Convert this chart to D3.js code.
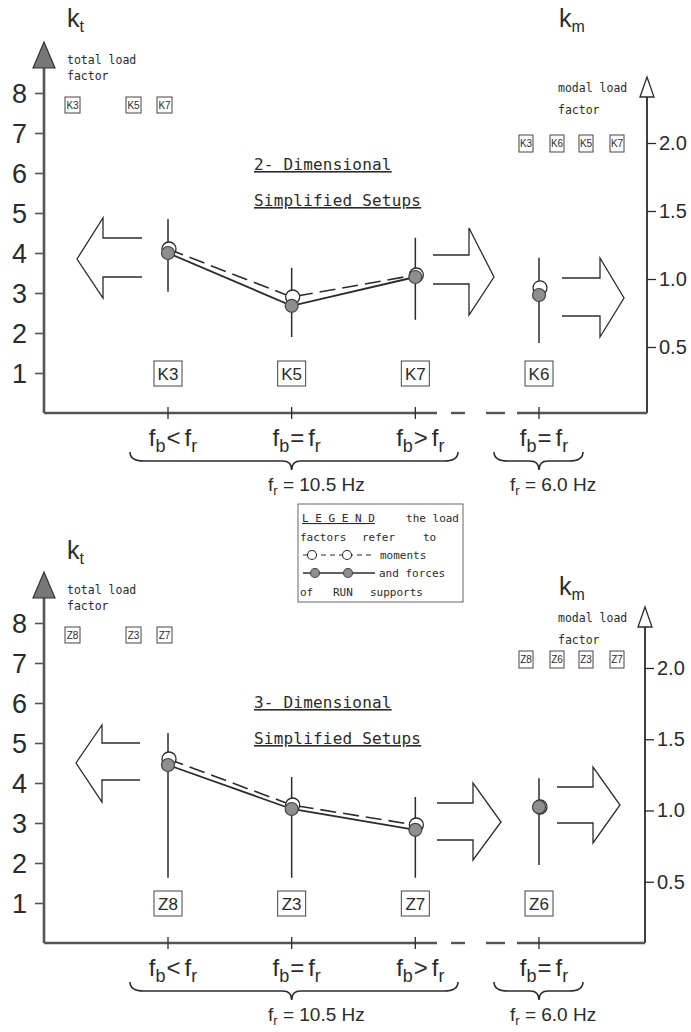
<!DOCTYPE html>
<html lang="en">
<head>
<meta charset="UTF-8">
<title>Load factors</title>
<script src="https://cdn.jsdelivr.net/npm/d3@7"></script>
<style>
  body { margin: 0; background: #fff; }
  text { fill: #2b2b2b; }
  .sans { font-family: "Liberation Sans", Arial, sans-serif; }
  .mono { font-family: "DejaVu Sans Mono", monospace; }
</style>
</head>
<body>
<script>

// ---- data ----
var relations = ["<", "=", ">", "="];
var freqLabels = ["10.5 Hz", "6.0 Hz"];
var ktTicks = [1, 2, 3, 4, 5, 6, 7, 8];
var kmTicks = [0.5, 1.0, 1.5, 2.0];

var title2D = ["2- Dimensional", "Simplified Setups"];
var setups2D = ["K3", "K5", "K7", "K6"];
var forces2D = [4.0, 2.68, 3.4, 2.95];
var moments2D = [4.1, 2.9, 3.45, 3.13];
var barLow2D = [3.03, 1.9, 2.33, 1.75];
var barHigh2D = [4.85, 3.63, 4.38, 3.88];
var ktBoxes2D = ["K3", "K5", "K7"];
var kmBoxes2D = ["K3", "K6", "K5", "K7"];

var title3D = ["3- Dimensional", "Simplified Setups"];
var setups3D = ["Z8", "Z3", "Z7", "Z6"];
var forces3D = [4.45, 3.35, 2.83, 3.4];
var moments3D = [4.6, 3.45, 2.95, 3.4];
var barLow3D = [1.63, 1.63, 1.63, 1.95];
var barHigh3D = [5.25, 4.15, 3.65, 4.12];
var ktBoxes3D = ["Z8", "Z3", "Z7"];
var kmBoxes3D = ["Z8", "Z6", "Z3", "Z7"];

var legendLines = ["factors", "refer", "to"];

var ink = "#2b2b2b";
var width = 691, height = 1032;

var svg = d3.select("body").append("svg")
	.attr("width", width)
	.attr("height", height);

// x positions of the four setups, same for both panels
var x = d3.scalePoint().domain(d3.range(4)).range([168, 539]);

function smallBox(g, label, bx, by, w, h, fs) {
	g.append("rect").attr("x", bx).attr("y", by).attr("width", w).attr("height", h)
		.attr("fill", "none").attr("stroke", "#444").attr("stroke-width", 1);
	g.append("text").attr("class", "sans").attr("x", bx + w / 2).attr("y", by + h / 2 + fs * 0.36)
		.attr("text-anchor", "middle").attr("font-size", fs).text(label);
}

function hollowArrow(g, a) {
	// a: tail x, head x, tip x, tip y, head top/bottom, shaft top/bottom
	var pts = [[a.tail, a.st], [a.hx, a.st], [a.hx, a.ht], [a.tx, a.ty],
		[a.hx, a.hb], [a.hx, a.sb], [a.tail, a.sb]];
	g.append("path").attr("d", d3.line()(pts))
		.attr("fill", "none").attr("stroke", ink).attr("stroke-width", 1.3);
}

function brace(x0, x1, xm, y0, y1, y2) {
	return "M" + x0 + "," + y0 + " Q" + x0 + "," + y1 + " " + (x0 + 14) + "," + y1 +
		" L" + (xm - 9) + "," + y1 + " Q" + xm + "," + y1 + " " + xm + "," + y2 +
		" Q" + xm + "," + y1 + " " + (xm + 9) + "," + y1 +
		" L" + (x1 - 14) + "," + y1 + " Q" + x1 + "," + y1 + " " + x1 + "," + y0;
}

function drawPanel(p) {
	var g = svg.append("g");
	var b = p.base;
	var kt = d3.scaleLinear().domain([0, 8]).range([b, b - 320]);
	var km = d3.scaleLinear().domain([0, 2]).range(p.kmRange);

	// left axis (k_t)
	var ax = g.append("g").attr("transform", "translate(44,0)")
		.call(d3.axisLeft(kt).tickValues(ktTicks).tickSize(9).tickPadding(8).tickFormat(d3.format("d")));
	ax.select(".domain").remove();
	ax.selectAll(".tick line").attr("stroke", "#555").attr("stroke-width", 1.6);
	ax.selectAll(".tick text").attr("class", "sans").attr("font-size", 27)
		.attr("fill", "#333").style("font-weight", 300).attr("dy", "0.36em");
	g.append("line").attr("x1", 44).attr("x2", 44).attr("y1", b).attr("y2", b - 346)
		.attr("stroke", "#555").attr("stroke-width", 2.6);
	g.append("path").attr("d", d3.line()([[33, b - 345], [44, b - 371], [55, b - 345]]) + "Z")
		.attr("fill", "#777").attr("stroke", "#333").attr("stroke-width", 1.2);

	var ktLab = g.append("text").attr("class", "sans").attr("x", 67).attr("y", p.ktLabelY).attr("font-size", 25);
	ktLab.append("tspan").text("k");
	ktLab.append("tspan").attr("font-size", 16).attr("dy", 5).text("t");
	g.append("text").attr("class", "mono").attr("x", 67).attr("y", b - 349).attr("font-size", 11.5).text("total load");
	g.append("text").attr("class", "mono").attr("x", 67).attr("y", b - 333).attr("font-size", 11.5).text("factor");
	var kbx = [65, 126, 157];
	p.ktBoxes.forEach(function (d, i) { smallBox(g, d, kbx[i], b - 316, 15, 16, 10); });

	// right axis (k_m)
	var rx = p.rightX;
	var ay = g.append("g").attr("transform", "translate(" + rx + ",0)")
		.call(d3.axisRight(km).tickValues(kmTicks).tickSize(9).tickPadding(3).tickFormat(d3.format(".1f")));
	ay.select(".domain").remove();
	ay.selectAll(".tick line").attr("stroke", ink).attr("stroke-width", 1.3);
	ay.selectAll(".tick text").attr("class", "sans").attr("font-size", 20).attr("fill", "#333");
	g.append("line").attr("x1", rx).attr("x2", rx).attr("y1", b).attr("y2", b - 316)
		.attr("stroke", ink).attr("stroke-width", 1.8);
	g.append("path").attr("d", d3.line()([[rx - 7, b - 316], [rx, b - 336], [rx + 7, b - 316]]) + "Z")
		.attr("fill", "#fff").attr("stroke", ink).attr("stroke-width", 1.3);

	var kmLab = g.append("text").attr("class", "sans").attr("x", 559).attr("y", p.kmLabelY).attr("font-size", 25);
	kmLab.append("tspan").text("k");
	kmLab.append("tspan").attr("font-size", 16).attr("dy", 5).text("m");
	g.append("text").attr("class", "mono").attr("x", 558).attr("y", b - 321).attr("font-size", 11.5).text("modal load");
	g.append("text").attr("class", "mono").attr("x", 558).attr("y", b - 299).attr("font-size", 11.5).text("factor");
	var mbx = [519, 550, 579, 610];
	p.kmBoxes.forEach(function (d, i) { smallBox(g, d, mbx[i], p.kmBoxY, 14, 17, 10); });

	// x axis with the break
	[[44, 437], [451, 465], [486, 505], [517, rx]].forEach(function (s) {
		g.append("line").attr("x1", s[0]).attr("x2", s[1]).attr("y1", b).attr("y2", b)
			.attr("stroke", "#555").attr("stroke-width", 2.4);
	});
	p.setups.forEach(function (d, i) {
		g.append("line").attr("x1", x(i)).attr("x2", x(i)).attr("y1", b - 6).attr("y2", b + 6)
			.attr("stroke", ink).attr("stroke-width", 1.3);
		var t = g.append("text").attr("class", "sans").attr("x", x(i) + 5).attr("y", b + 33)
			.attr("text-anchor", "middle").attr("font-size", 24).attr("fill", "#333");
		t.append("tspan").text("f");
		t.append("tspan").attr("font-size", 18).attr("dy", 6).text("b");
		t.append("tspan").attr("dy", -6).attr("dx", 1).text(relations[i]);
		t.append("tspan").attr("dx", 4).text("f");
		t.append("tspan").attr("font-size", 18).attr("dy", 6).text("r");
		smallBox(g, d, x(i) - 14, b - 52, 28, 25, 17);
	});

	// braces and frequencies
	g.append("path").attr("d", brace(130, 458, x(1), b + 39, b + 48, b + 57))
		.attr("fill", "none").attr("stroke", ink).attr("stroke-width", 1.6);
	g.append("path").attr("d", brace(494, 583, x(3), b + 39, b + 48, b + 57))
		.attr("fill", "none").attr("stroke", ink).attr("stroke-width", 1.6);
	[268, 510].forEach(function (fx, i) {
		var t = g.append("text").attr("class", "sans").attr("x", fx).attr("y", b + 78)
			.attr("font-size", 19).attr("fill", "#333");
		t.append("tspan").text("f");
		t.append("tspan").attr("font-size", 13).attr("dy", 4).text("r");
		t.append("tspan").attr("dy", -4).text(i === 0 ? " =  " + freqLabels[i] : " = " + freqLabels[i]);
	});

	// titles
	g.append("text").attr("class", "mono").attr("x", 254).attr("y", p.titleY)
		.attr("font-size", 16).attr("letter-spacing", 0.2).attr("text-decoration", "underline").text(p.title[0]);
	g.append("text").attr("class", "mono").attr("x", 254).attr("y", p.titleY + 36)
		.attr("font-size", 16).attr("letter-spacing", 0.2).attr("text-decoration", "underline").text(p.title[1]);

	// big hollow arrows
	p.arrows.forEach(function (a) { hollowArrow(g, a); });

	// error bars
	p.setups.forEach(function (d, i) {
		g.append("line").attr("x1", x(i)).attr("x2", x(i))
			.attr("y1", kt(p.low[i])).attr("y2", kt(p.high[i]))
			.attr("stroke", ink).attr("stroke-width", 1.5);
	});

	// moments (dashed, open) and forces (solid, filled) for the 10.5 Hz group
	var idx = [0, 1, 2];
	g.append("path").datum(idx)
		.attr("d", d3.line().x(function (i) { return x(i); }).y(function (i) { return kt(p.moments[i]); }))
		.attr("fill", "none").attr("stroke", ink).attr("stroke-width", 1.6).attr("stroke-dasharray", "16,7");
	g.append("path").datum(idx)
		.attr("d", d3.line().x(function (i) { return x(i); }).y(function (i) { return kt(p.forces[i]); }))
		.attr("fill", "none").attr("stroke", ink).attr("stroke-width", 1.8);

	g.selectAll(".open").data(p.moments).enter().append("circle")
		.attr("cx", function (d, i) { return x(i) + 1; })
		.attr("cy", function (d) { return kt(d); })
		.attr("r", 7).attr("fill", "#fff").attr("stroke", ink).attr("stroke-width", 1.3);
	g.selectAll(".filled").data(p.forces).enter().append("circle")
		.attr("cx", function (d, i) { return x(i); })
		.attr("cy", function (d) { return kt(d); })
		.attr("r", 6.5).attr("fill", "#8e8e8e").attr("stroke", "#444").attr("stroke-width", 1.2);
}

drawPanel({
	base: 413, setups: setups2D, forces: forces2D, moments: moments2D,
	low: barLow2D, high: barHigh2D, ktBoxes: ktBoxes2D, kmBoxes: kmBoxes2D, title: title2D,
	kmRange: [415, 143], rightX: 647, ktLabelY: 27, kmLabelY: 27, kmBoxY: 135, titleY: 170,
	arrows: [
		{tail: 142, hx: 103, tx: 77, ty: 259, ht: 218, hb: 298, st: 238, sb: 277},
		{tail: 433, hx: 469, tx: 494, ty: 277, ht: 228, hb: 315, st: 255, sb: 284},
		{tail: 562, hx: 600, tx: 624, ty: 298, ht: 258, hb: 337, st: 278, sb: 316}
	]
});

drawPanel({
	base: 943, setups: setups3D, forces: forces3D, moments: moments3D,
	low: barLow3D, high: barHigh3D, ktBoxes: ktBoxes3D, kmBoxes: kmBoxes3D, title: title3D,
	kmRange: [953, 668], rightX: 645, ktLabelY: 559, kmLabelY: 595, kmBoxY: 651, titleY: 708,
	arrows: [
		{tail: 140, hx: 102, tx: 76, ty: 763, ht: 725, hb: 802, st: 743, sb: 780},
		{tail: 437, hx: 473, tx: 501, ty: 822, ht: 783, hb: 860, st: 803, sb: 840},
		{tail: 557, hx: 593, tx: 620, ty: 805, ht: 767, hb: 843, st: 787, sb: 823}
	]
});

// legend box
var lg = svg.append("g");
lg.append("rect").attr("x", 298).attr("y", 504).attr("width", 165).attr("height", 98)
	.attr("fill", "none").attr("stroke", "#555").attr("stroke-width", 0.9);
lg.append("text").attr("class", "mono").attr("x", 302).attr("y", 522).attr("font-size", 11)
	.attr("text-decoration", "underline").attr("fill", "#444").text("L E G E N D");
lg.append("text").attr("class", "mono").attr("x", 459).attr("y", 522).attr("font-size", 11)
	.attr("text-anchor", "end").attr("fill", "#444").text("the load");
[300, 362, 423].forEach(function (lx, i) {
	lg.append("text").attr("class", "mono").attr("x", lx).attr("y", 541).attr("font-size", 11)
		.attr("fill", "#444").text(legendLines[i]);
});
lg.append("line").attr("x1", 303).attr("x2", 375).attr("y1", 555).attr("y2", 555)
	.attr("stroke", ink).attr("stroke-width", 1.2).attr("stroke-dasharray", "5,4");
[312, 347].forEach(function (cx) {
	lg.append("circle").attr("cx", cx).attr("cy", 555).attr("r", 4.5)
		.attr("fill", "#fff").attr("stroke", ink).attr("stroke-width", 1.1);
});
lg.append("text").attr("class", "mono").attr("x", 380).attr("y", 559).attr("font-size", 11)
	.attr("fill", "#444").text("moments");
lg.append("line").attr("x1", 303).attr("x2", 375).attr("y1", 573).attr("y2", 573)
	.attr("stroke", ink).attr("stroke-width", 1.3);
[315, 348].forEach(function (cx) {
	lg.append("circle").attr("cx", cx).attr("cy", 573).attr("r", 4.5)
		.attr("fill", "#8e8e8e").attr("stroke", "#444").attr("stroke-width", 1.1);
});
lg.append("text").attr("class", "mono").attr("x", 379).attr("y", 577).attr("font-size", 11)
	.attr("fill", "#444").text("and forces");
[[300, "of"], [333, "RUN"], [370, "supports"]].forEach(function (w) {
	lg.append("text").attr("class", "mono").attr("x", w[0]).attr("y", 596).attr("font-size", 11)
		.attr("fill", "#444").text(w[1]);
});

</script>
</body>
</html>
